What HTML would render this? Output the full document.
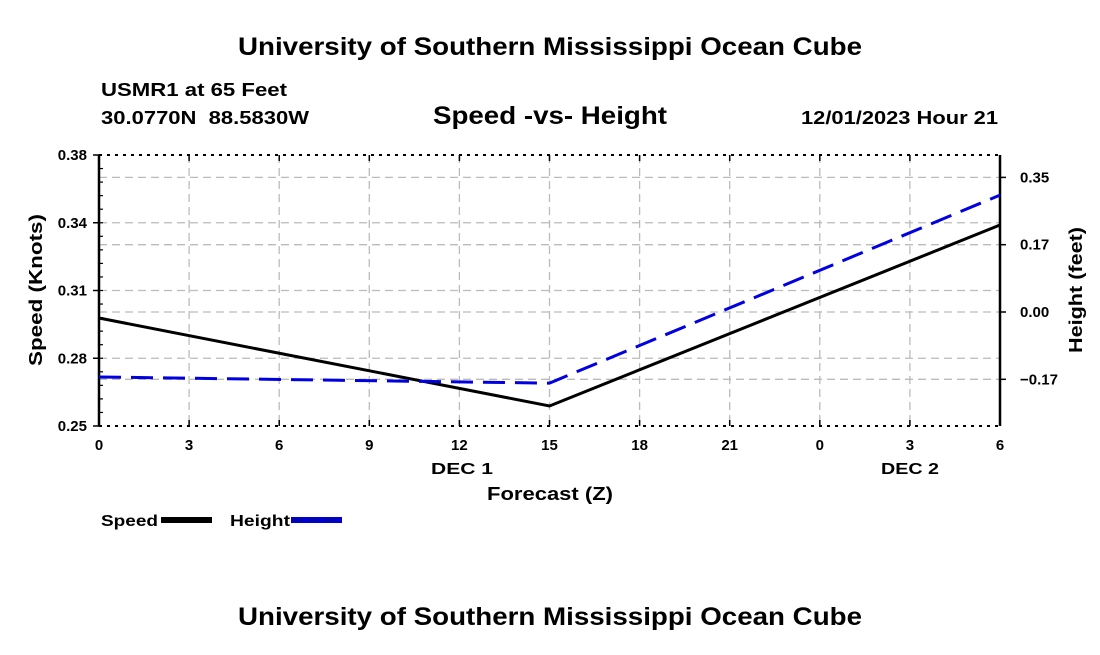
<!DOCTYPE html>
<html><head><meta charset="utf-8"><style>
body{margin:0;background:#fff;width:1100px;height:650px;overflow:hidden}
text{font-family:"Liberation Sans",Arial,sans-serif;font-weight:bold;fill:#000}
</style></head><body>
<svg id="chart" width="1100" height="650">
<text x="238" y="55" font-size="25" textLength="624" lengthAdjust="spacingAndGlyphs">University of Southern Mississippi Ocean Cube</text>
<text x="101" y="96" font-size="18" textLength="186" lengthAdjust="spacingAndGlyphs">USMR1 at 65 Feet</text>
<text x="101" y="124" font-size="18" textLength="208" lengthAdjust="spacingAndGlyphs" xml:space="preserve">30.0770N  88.5830W</text>
<text x="433" y="124" font-size="25" textLength="234" lengthAdjust="spacingAndGlyphs">Speed -vs- Height</text>
<text x="801" y="124" font-size="18" textLength="197" lengthAdjust="spacingAndGlyphs">12/01/2023 Hour 21</text>
<g id="grid"></g>
<g id="axes"></g>
<g id="series"></g>
<text x="42" y="290" font-size="18" text-anchor="middle" textLength="152" lengthAdjust="spacingAndGlyphs" transform="rotate(-90 42 290)">Speed (Knots)</text>
<text x="1082" y="290" font-size="18" text-anchor="middle" textLength="126" lengthAdjust="spacingAndGlyphs" transform="rotate(-90 1082 290)">Height (feet)</text>
<text x="550" y="500" font-size="18" text-anchor="middle" textLength="126" lengthAdjust="spacingAndGlyphs">Forecast (Z)</text>
<text x="431" y="474" font-size="16" textLength="62" lengthAdjust="spacingAndGlyphs">DEC 1</text>
<text x="881" y="474" font-size="16" textLength="58" lengthAdjust="spacingAndGlyphs">DEC 2</text>
<g>
<text x="101" y="526" font-size="16" textLength="57" lengthAdjust="spacingAndGlyphs">Speed</text>
<rect x="161" y="517" width="51" height="6" fill="#000"/>
<text x="230" y="526" font-size="16" textLength="60" lengthAdjust="spacingAndGlyphs">Height</text>
<rect x="291" y="517" width="51" height="6" fill="#0000d0"/>
<line x1="293" y1="520" x2="340" y2="520" stroke="#0a0a60" stroke-width="1" stroke-dasharray="10 6"/>
</g>
<text x="238" y="625" font-size="25" textLength="624" lengthAdjust="spacingAndGlyphs">University of Southern Mississippi Ocean Cube</text>
</svg>
<script>
const hours=[0,15,30];
const speedValues=[0.3018,0.2596,0.3464];
const heightValues=[-0.169,-0.185,0.304];
const xTickLabels=["0","3","6","9","12","15","18","21","0","3","6"];
const leftTickValues=[0.25,0.2825,0.315,0.3475,0.38];
const leftTickLabels=["0.25","0.28","0.31","0.34","0.38"];
const rightTickValues=[-0.175,0,0.175,0.35];
const rightTickLabels=["-0.17","0.00","0.17","0.35"];
const NS="http://www.w3.org/2000/svg";
const X0=99,X1=1000,Y0=426,Y1=155;
const xs=h=>X0+(X1-X0)*h/30;
const yl=v=>Y0-(Y0-Y1)*(v-0.25)/(0.38-0.25);
const yr=v=>312-v*384.6;
function mk(p,t,a){const e=document.createElementNS(NS,t);for(const k in a)e.setAttribute(k,a[k]);document.getElementById(p).appendChild(e);return e;}
xTickLabels.forEach((l,i)=>{const x=xs(i*3);
 if(i>0&&i<10){const g=mk('grid','line',{x1:x,x2:x,y1:Y1,y2:Y0,stroke:'#bbb','stroke-dasharray':'8 5','stroke-width':1.3});
 
 }
 const t=mk('axes','line',{x1:x,x2:x,y1:Y0,y2:Y0-6,stroke:'#000','stroke-width':1.5});
 
 
 const t2=mk('axes','line',{x1:x,x2:x,y1:Y1,y2:Y1+6,stroke:'#000','stroke-width':1.5});
 
 
 const tx=mk('axes','text',{x:x,y:450,'font-size':15,'text-anchor':'middle'});tx.textContent=l;
 
 });
leftTickValues.forEach((v,i)=>{const y=yl(v);
 if(i>0&&i<4){const g=mk('grid','line',{x1:X0,x2:X1,y1:y,y2:y,stroke:'#bbb','stroke-dasharray':'8 5','stroke-width':1.3});
 
 }
 const t=mk('axes','line',{x1:X0-6,x2:X0,y1:y,y2:y,stroke:'#000','stroke-width':1.5});
 
 
 const tx=mk('axes','text',{x:87,y:y+5,'font-size':15,'text-anchor':'end'});tx.textContent=leftTickLabels[i];
 
 });
for(let k=1;k<20;k++){const y=Y0-(Y0-Y1)*k/20;const m=mk('axes','line',{x1:X0,x2:X0+4,y1:y,y2:y,stroke:'#000','stroke-width':1.2});
 
 }
rightTickValues.forEach((v,i)=>{const y=yr(v);
 const g=mk('grid','line',{x1:X0,x2:X1,y1:y,y2:y,stroke:'#bbb','stroke-dasharray':'8 5','stroke-width':1.3});
 
 
 const t=mk('axes','line',{x1:X1,x2:X1+6,y1:y,y2:y,stroke:'#000','stroke-width':1.5});
 
 
 const tx=mk('axes','text',{x:1020,y:y+5,'font-size':15});tx.textContent=rightTickLabels[i].replace('-','\u2212');
 
 });
[[X0,Y0,X0,Y1,'y-axis-left',2.5,null],[X1,Y0,X1,Y1,'y-axis-right',2.5,null],[X0,Y1,X1,Y1,'x-axis-top',2,'3 5'],[X0,Y0,X1,Y0,'x-axis-bottom',2,'3 5']].forEach(a=>{
 const at={x1:a[0],y1:a[1],x2:a[2],y2:a[3],stroke:'#000','stroke-width':a[5]};if(a[6])at['stroke-dasharray']=a[6];
 const l=mk('axes','line',at);
 
 });
const sp=mk('series','polyline',{points:hours.map((h,i)=>xs(h)+','+yl(speedValues[i])).join(' '),fill:'none',stroke:'#000','stroke-width':3});


const hl=mk('series','polyline',{points:hours.map((h,i)=>xs(h)+','+yr(heightValues[i])).join(' '),fill:'none',stroke:'#0000e0','stroke-width':3,'stroke-dasharray':'22 10'});


</script>
</body></html>
